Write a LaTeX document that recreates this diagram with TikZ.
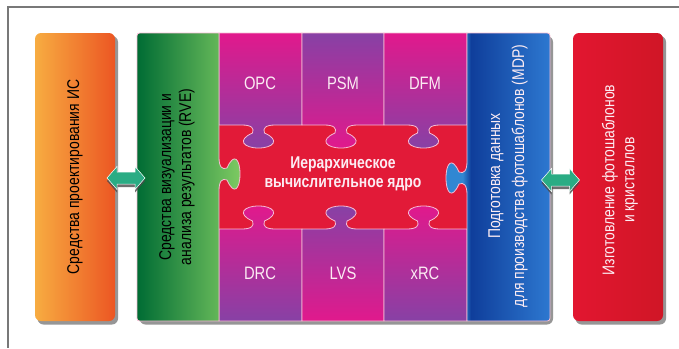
\documentclass[tikz,border=0pt]{standalone}
\usepackage{fontspec}
\setmainfont{Liberation Sans}[FakeStretch=0.82]
\definecolor{mag}{RGB}{225,25,140}
\definecolor{pur}{RGB}{135,65,165}
\definecolor{crim}{RGB}{226,26,56}
\definecolor{orL}{RGB}{247,172,65}
\definecolor{orR}{RGB}{236,86,35}
\definecolor{grL}{RGB}{0,108,52}
\definecolor{grR}{RGB}{125,202,98}
\definecolor{blK}{RGB}{48,135,210}
\definecolor{blL}{RGB}{15,62,155}
\definecolor{blR}{RGB}{45,120,208}
\definecolor{rdL}{RGB}{226,22,48}
\definecolor{rdR}{RGB}{208,22,38}
\definecolor{arr}{RGB}{42,172,132}
\definecolor{edge}{RGB}{246,188,212}
\definecolor{frame}{RGB}{120,120,120}
\definecolor{txtw}{RGB}{252,236,243}
\pgfdeclarehorizontalshading{blueshade}{100bp}{color(0bp)=(blK); color(25bp)=(blK); color(33bp)=(blK); color(37bp)=(blL); color(75bp)=(blR); color(100bp)=(blR)}
\tikzset{
  knobh/.style n args={4}{insert path={
    .. controls ({#1-(#4)*7},#2) and ({#1-(#4)*4},{#2+(#3)*3}) .. ({#1-(#4)*6},{#2+(#3)*8})
    .. controls ({#1-(#4)*22},{#2+(#3)*15}) and ({#1-(#4)*15},{#2+(#3)*23}) .. (#1,{#2+(#3)*23})
    .. controls ({#1+(#4)*15},{#2+(#3)*23}) and ({#1+(#4)*22},{#2+(#3)*15}) .. ({#1+(#4)*6},{#2+(#3)*8})
    .. controls ({#1+(#4)*4},{#2+(#3)*3}) and ({#1+(#4)*7},#2) .. ({#1+(#4)*17},#2)}},
  knobv/.style n args={4}{insert path={
    .. controls (#2,{#1-(#4)*7}) and ({#2+(#3)*3},{#1-(#4)*4}) .. ({#2+(#3)*8},{#1-(#4)*6})
    .. controls ({#2+(#3)*15},{#1-(#4)*22}) and ({#2+(#3)*21},{#1-(#4)*15}) .. ({#2+(#3)*21},#1)
    .. controls ({#2+(#3)*21},{#1+(#4)*15}) and ({#2+(#3)*15},{#1+(#4)*22}) .. ({#2+(#3)*8},{#1+(#4)*6})
    .. controls ({#2+(#3)*3},{#1+(#4)*4}) and (#2,{#1+(#4)*7}) .. (#2,{#1+(#4)*17})}},
  piece/.style={draw=edge, line width=0.8pt},
  shadowbox/.style={fill=black!75, opacity=0.55},
  lbl/.style={text=txtw, font=\fontsize{18}{20}\selectfont},
  vtext/.style={rotate=90, align=center},
  arrowshape/.style={fill=arr, draw=white, line width=0.5pt},
}
\begin{document}
\begin{tikzpicture}[x=1pt,y=-1pt]
\useasboundingbox (0,0) rectangle (679,348);
\fill[white] (0,0) rectangle (679,348);
% frame
\draw[frame, line width=1.2pt] (679,7) -- (8,7) -- (8,348);

% shadows
\fill[shadowbox, rounded corners=6] (37.5,36) rectangle (118,324.5);
\fill[shadowbox, rounded corners=6] (139.5,36) rectangle (553,324.5);
\fill[shadowbox, rounded corners=6] (575.5,36) rectangle (666,324.5);

% left box
\path[left color=orL, right color=orR, rounded corners=6] (35,33) rectangle (115,321);
\node[vtext, font=\fontsize{17}{20}\selectfont] (design) at (75,177) {Средства проектирования ИС};

% red core band
\fill[crim] (219,125) rectangle (467,229);

% top pieces
\path[piece, top color=mag, bottom color=pur] (219,33) -- (302,33) -- (302,125) -- (275.5,125) [knobh={258.5}{125}{1}{-1}] -- (219,125) -- cycle;
\path[piece, top color=pur, bottom color=mag] (302,33) -- (384,33) -- (384,125) -- (358,125) [knobh={341}{125}{1}{-1}] -- (302,125) -- cycle;
\path[piece, top color=mag, bottom color=pur] (384,33) -- (467,33) -- (467,125) -- (440.5,125) [knobh={423.5}{125}{1}{-1}] -- (384,125) -- cycle;
% bottom pieces
\path[piece, top color=mag, bottom color=pur] (219,229) -- (241.5,229) [knobh={258.5}{229}{-1}{1}] -- (302,229) -- (302,321) -- (219,321) -- cycle;
\path[piece, top color=pur, bottom color=mag] (302,229) -- (324,229) [knobh={341}{229}{-1}{1}] -- (384,229) -- (384,321) -- (302,321) -- cycle;
\path[piece, top color=mag, bottom color=pur] (384,229) -- (406.5,229) [knobh={423.5}{229}{-1}{1}] -- (467,229) -- (467,321) -- (384,321) -- cycle;

% green box
\path[piece, left color=grL, right color=grR] (219,33) -- (219,157) [knobv={174}{219}{1}{1}] -- (219,321) -- (143,321) .. controls (137,321) .. (137,315) -- (137,39) .. controls (137,33) .. (143,33) -- cycle;
% blue box
\path[piece, shading=blueshade] (467,33) -- (544,33) .. controls (550,33) .. (550,39) -- (550,315) .. controls (550,321) .. (544,321) -- (467,321) -- (467,195) [knobv={178}{467}{-1}{-1}] -- cycle;

% right box
\path[left color=rdL, right color=rdR, rounded corners=6] (573,33) rectangle (663,321);

% labels
\node[lbl] (opc) at (260,83) {OPC};
\node[lbl] (psm) at (343,83) {PSM};
\node[lbl] (dfm) at (425,83) {DFM};
\node[lbl] (drc) at (260,273) {DRC};
\node[lbl] (lvs) at (343,273) {LVS};
\node[lbl] (xrc) at (425,273) {xRC};
\node[text=txtw, align=center, font=\bfseries\fontsize{17}{19}\selectfont] (core) at (343,174) {Иерархическое\\вычислительное ядро};

\node[vtext, font=\fontsize{17}{20}\selectfont] (rve) at (177,177) {Средства визуализации и\\анализа результатов (RVE)};
\node[vtext, text=txtw, font=\fontsize{17}{24}\selectfont] (mdp) at (508,176) {Подготовка данных\\для производства фотошаблонов (MDP)};
\node[vtext, text=txtw, font=\fontsize{17}{20}\selectfont] (fab) at (620,180) {Изготовление фотошаблонов\\и кристаллов};

% arrows
\coordinate (la) at (126,178);
\coordinate (ra) at (560.5,180);
\foreach \c in {la, ra}{
  \fill[black!70, opacity=0.8, shift={(\c)}] (-19,3) -- (-9,-8.5) -- (-9,-3) -- (9,-3) -- (9,-8.5) -- (19,3) -- (9,14.5) -- (9,9) -- (-9,9) -- (-9,14.5) -- cycle;
  \path[arrowshape, shift={(\c)}] (-19,0) -- (-9,-11.5) -- (-9,-6) -- (9,-6) -- (9,-11.5) -- (19,0) -- (9,11.5) -- (9,6) -- (-9,6) -- (-9,11.5) -- cycle;
}
\end{tikzpicture}
\end{document}
